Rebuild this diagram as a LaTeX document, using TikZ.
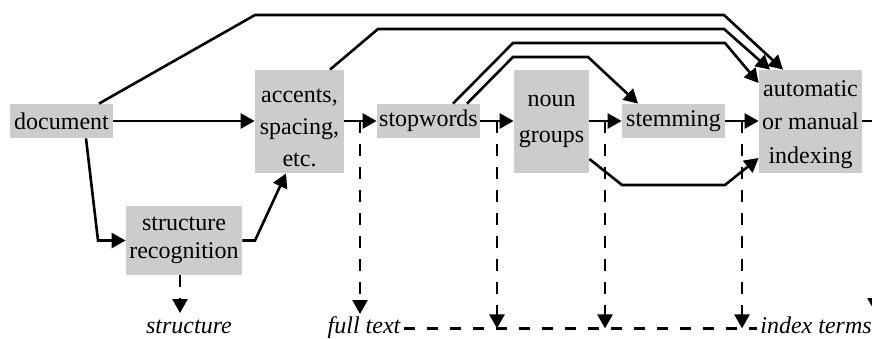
\documentclass[tikz,border=0pt]{standalone}
\usepackage{fontspec}
\setmainfont{Liberation Serif}
\usetikzlibrary{arrows.meta}
\definecolor{boxgray}{RGB}{204,204,204}
\begin{document}
\begin{tikzpicture}[x=0.5pt,y=-0.5pt,
  box/.style={fill=boxgray, inner sep=0pt, align=center, font=\fontsize{12}{16.5}\selectfont},
  tlab/.style={inner sep=0pt, align=center, font=\fontsize{12}{16}\selectfont},
  wire/.style={line width=1.3pt, line join=miter},
  arr/.style={wire, -{Triangle[length=7pt,width=7.5pt]}},
  dsh/.style={wire, dash pattern=on 5.75pt off 5.75pt},
  darr/.style={arr, dash pattern=on 5.75pt off 5.75pt},
  lbl/.style={font=\fontsize{12}{14}\selectfont\itshape, inner sep=1.5pt}]
\useasboundingbox (0,0) rectangle (872,338);
\clip (0,0) rectangle (872,338);

% boxes
\node[box, minimum width=51.5pt, minimum height=17pt] (doc) at (61.5,121) {document};
\node[box, minimum width=44.5pt, minimum height=51.5pt,
  label={[tlab, yshift=-3.2pt]center:accents,\\spacing,\\etc.}] (acc) at (299.5,121.5) {};
\node[box, minimum width=58pt, minimum height=34.5pt, font=\fontsize{12}{14.25}\selectfont] (str) at (184,240.5) {structure\\recognition};
\node[box, minimum width=51.5pt, minimum height=17pt] (stop) at (428.5,121) {stopwords};
\node[box, minimum width=37.5pt, minimum height=51.5pt, font=\fontsize{12}{17.75}\selectfont] (noun) at (551.5,121.5) {noun\\groups};
\node[box, minimum width=51.5pt, minimum height=17pt] (stem) at (673.5,121) {stemming};
\node[box, minimum width=51.5pt, minimum height=51.5pt,
  label={[tlab, yshift=-1.5pt, font=\fontsize{12}{16.75}\selectfont]center:automatic\\or manual\\indexing}] (idx) at (810.5,121.5) {};

% output labels
\node[lbl, anchor=base] (strl) at (189,333) {structure};
\node[lbl, anchor=base] (ft) at (364,333) {full text};
\node[lbl, anchor=base west] (it) at (757,333) {index terms};

% main chain
\draw[arr] (doc.east) -- (doc.east -| acc.west);
\draw[arr] (acc.east |- stop.west) -- (stop.west);
\draw[arr] (stop.east) -- (stop.east -| noun.west);
\draw[arr] (noun.east |- stem.west) -- (stem.west);
\draw[arr] (stem.east) -- (stem.east -| idx.west);
\coordinate (rt) at (875,121);
\draw[wire] (idx.east |- rt) -- (rt);
\draw[darr] (rt) -- (rt |- 0,312);

% bypass lines
\draw[arr] (99,0 |- doc.north) -- (255,15) -- (724,15) -- (783,0 |- idx.north);
\draw[arr] (330,0 |- acc.north) -- (378,29) -- (724,29) -- (770,0 |- idx.north);
\draw[arr] (453,0 |- stop.north) -- (513,43) -- (725,43) -- (idx.west |- 0,83);
\draw[arr] (467,0 |- stop.north) -- (513,57) -- (588,57) -- (638,0 |- stem.north);
\draw[arr] (noun.east |- 0,159) -- (622,185) -- (725,185) -- (idx.west |- 0,158);

% structure branch
\draw[arr] (86,0 |- doc.south) -- (98,0 |- str.west) -- (str.west);
\draw[arr] (str.east) -- (255,0 |- str.east) -- (286,0 |- acc.south);
\draw[darr] (180,0 |- str.south) -- (180,313);

% dashed outputs
\coordinate (d1) at (360,121);
\coordinate (d2) at (497,121);
\coordinate (d3) at (605,121);
\coordinate (d4) at (742,121);
\draw[darr] (d1) -- (d1 |- 0,314);
\draw[darr] (d2) -- (d2 |- ft.mid);
\draw[darr] (d3) -- (d3 |- ft.mid);
\draw[darr] (d4) -- (d4 |- ft.mid);
\draw[dsh] (ft.mid east) -- (it.mid west);
\end{tikzpicture}
\end{document}
